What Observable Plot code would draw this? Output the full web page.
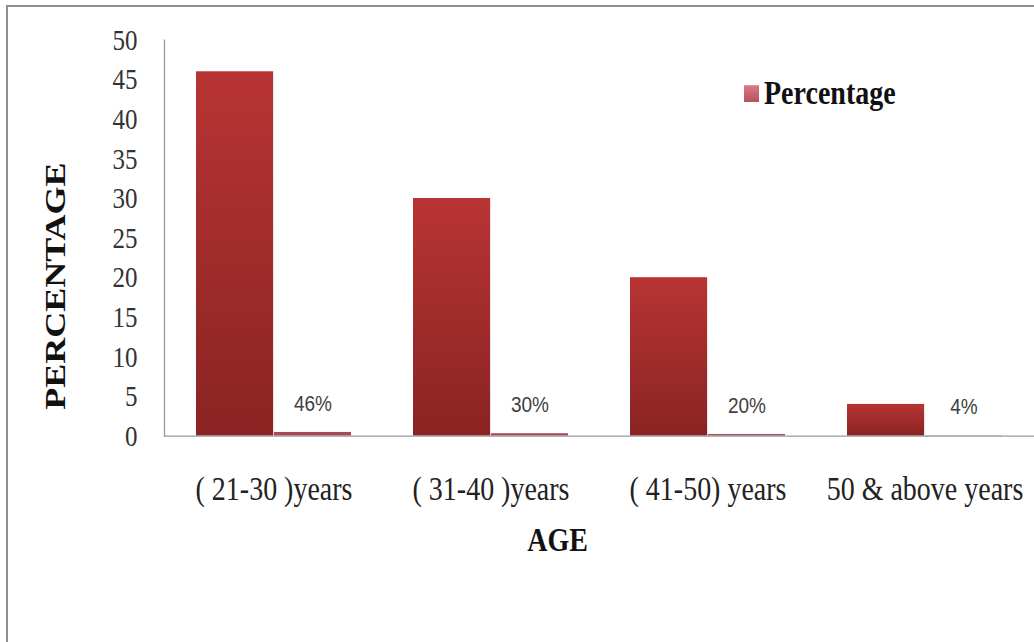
<!DOCTYPE html>
<html>
<head>
<meta charset="utf-8">
<script src="https://cdn.jsdelivr.net/npm/d3@7"></script>
<script src="https://cdn.jsdelivr.net/npm/@observablehq/plot@0.6"></script>
<style>
  html, body { margin: 0; padding: 0; background: #fff; overflow: hidden; width: 1034px; height: 642px; }
  #wrap { position: relative; width: 1034px; height: 642px; }
  #stretch { position: absolute; left: 0; top: 0; width: 1034px; height: 535px;
             transform: scaleY(1.2); transform-origin: 0 0; }
  #chart { position: absolute; left: 0; top: 0; }
  #frame { position: absolute; left: 6px; top: 5px; width: 1100px; height: 700px;
           border-left: 2px solid #8f8f8f; border-top: 2px solid #8f8f8f; box-sizing: border-box; pointer-events: none; }
  #legend { position: absolute; left: 744px; top: 60px; display: flex; align-items: center; height: 35px;
            font-family: "Liberation Serif", "Times New Roman", serif; font-weight: bold; font-size: 28px; color: #111; }
  #legend .sw { width: 15px; height: 14px; background: linear-gradient(#d97c88, #b9505e); margin-right: 5px; margin-top: 1px; }
</style>
</head>
<body>
<div id="wrap">
  <div id="stretch">
    <div id="chart"></div>
    <div id="legend"><span class="sw"></span><span>Percentage</span></div>
  </div>
  <div id="frame"></div>
</div>
<script>
const categories = ["( 21-30 )years", "( 31-40 )years", "( 41-50) years", "50 & above years"];
const counts = [46, 30, 20, 4];
const percentages = [0.46, 0.30, 0.20, 0.04];
const yTicks = [0, 5, 10, 15, 20, 25, 30, 35, 40, 45, 50];

const rows = categories.map((c, i) => ({category: c, count: counts[i], pct: percentages[i]}));

const W = 1034, H = 535, mL = 164, mR = 0, mT = 33, mB = 172;
const pInner = 0.284, pOuter = 0.142;
const step = (W - mL - mR) / (categories.length - pInner + 2 * pOuter);
const half = step * (1 - pInner) / 2;

const defs = () => {
  const d = d3.create("svg:defs");
  const g = d.append("linearGradient").attr("id", "barGrad")
    .attr("x1", 0).attr("x2", 0).attr("y1", 0).attr("y2", 1);
  g.append("stop").attr("offset", "0%").attr("stop-color", "#b83434");
  g.append("stop").attr("offset", "100%").attr("stop-color", "#8a2323");
  return d.node();
};

const chart = Plot.plot({
  width: W, height: H,
  marginLeft: mL, marginRight: mR, marginTop: mT, marginBottom: mB,
  style: {fontFamily: "'Liberation Serif', 'Times New Roman', serif", background: "transparent"},
  x: {domain: categories, paddingInner: pInner, paddingOuter: pOuter, label: null},
  y: {domain: [0, 50], label: null},
  marks: [
    defs,
    Plot.barY(rows, {x: "category", y: "count", fill: "url(#barGrad)", insetRight: half}),
    Plot.barY(rows, {x: "category", y: "pct", fill: "#a84857", insetLeft: half}),
    Plot.text(rows, {x: "category", y: "pct", text: d => Math.round(d.pct * 100) + "%",
      dx: half / 2, dy: -24, fontFamily: "'Liberation Sans', Arial, sans-serif", fontSize: 19, fill: "#404040"}),
    Plot.ruleY([0], {stroke: "#9a9a9a", strokeWidth: 1.1}),
    Plot.frame({anchor: "left", stroke: "#9a9a9a", strokeWidth: 1.3}),
    Plot.axisY({ticks: yTicks, tickSize: 0, tickPadding: 27, fontSize: 25, fill: "#333", label: null}),
    Plot.axisX({tickSize: 0, tickPadding: 33, fontSize: 28, fill: "#222", label: null}),
    Plot.text(["AGE"], {frameAnchor: "bottom", lineAnchor: "middle", textAnchor: "middle", dx: -42, dy: 87,
      fontSize: 28, fontWeight: "bold", fill: "#111"}),
    Plot.text(["PERCENTAGE"], {frameAnchor: "left", lineAnchor: "middle", textAnchor: "middle", rotate: -90, dx: -109, dy: 40,
      fontSize: 30, fontWeight: "bold", fill: "#111"})
  ]
});
document.getElementById("chart").appendChild(chart);
</script>
</body>
</html>
